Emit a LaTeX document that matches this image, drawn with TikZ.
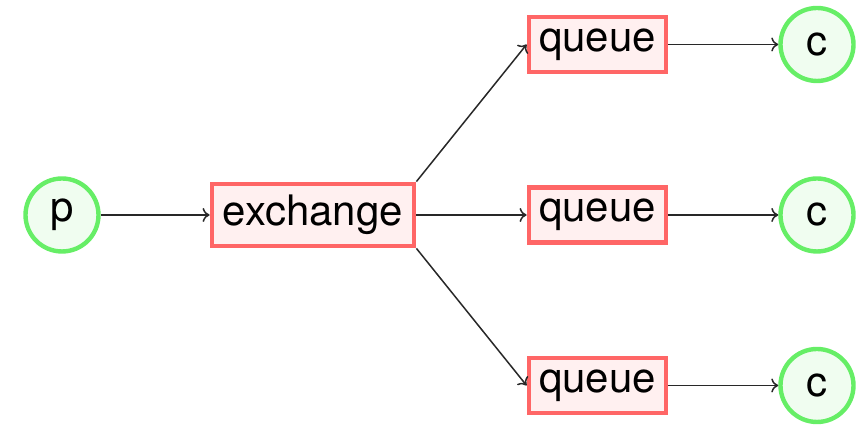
\documentclass[tikz,border=0pt]{standalone}
\usepackage{fontspec}
\setmainfont{TeX Gyre Heros}
\usetikzlibrary{arrows.meta}
\definecolor{cgreen}{RGB}{102,238,102}
\definecolor{cgreenfill}{RGB}{240,253,240}
\definecolor{cred}{RGB}{255,102,102}
\definecolor{credfill}{RGB}{255,240,240}
\definecolor{edgecol}{RGB}{40,40,40}
\begin{document}
\begin{tikzpicture}[x=0.5pt,y=0.5pt,
  endpoint/.style={circle,draw=cgreen,fill=cgreenfill,line width=2.2pt,minimum size=36.5pt,inner sep=0pt,font=\fontsize{21}{25}\selectfont},
  box/.style={rectangle,draw=cred,fill=credfill,line width=2.4pt,inner sep=0pt,font=\fontsize{21}{25}\selectfont},
  conn/.style={draw=edgecol,line width=0.75pt,-{To[length=3.5pt,width=7pt]}}]
\useasboundingbox (0,0) rectangle (858,431);
\node[endpoint] (p) at (62,216) {p};
\node[box,minimum width=101pt,minimum height=31pt] (ex) at (313,216) {exchange};
\node[box,minimum width=68.5pt,minimum height=27.5pt] (q1) at (597.5,386.5) {queue};
\node[box,minimum width=68.5pt,minimum height=27.5pt] (q2) at (597.5,216) {queue};
\node[box,minimum width=68.5pt,minimum height=27.5pt] (q3) at (597.5,45.5) {queue};
\node[endpoint] (c1) at (817,386.5) {c};
\node[endpoint] (c2) at (817,216) {c};
\node[endpoint] (c3) at (817,45.5) {c};
\draw[conn] (p) -- (ex);
\draw[conn] (ex.north east) -- (q1.west);
\draw[conn] (ex.east) -- (q2.west);
\draw[conn] (ex.south east) -- (q3.west);
\draw[conn] (q1) -- (c1);
\draw[conn] (q2) -- (c2);
\draw[conn] (q3) -- (c3);
\end{tikzpicture}
\end{document}
